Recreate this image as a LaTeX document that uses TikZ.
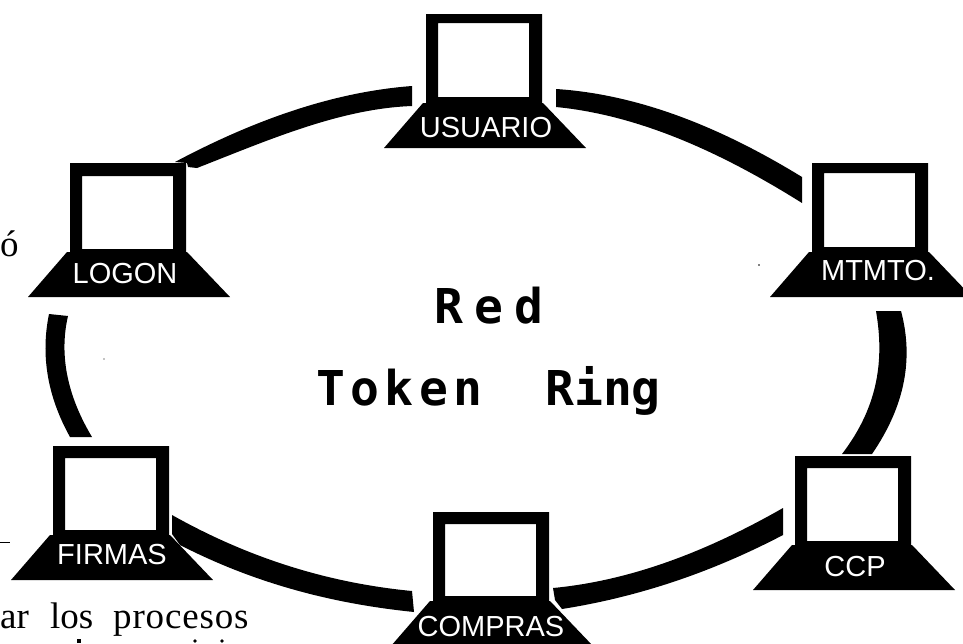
\documentclass[tikz,border=0pt]{standalone}
\usepackage{fontspec}
\setmainfont{Liberation Serif}
\newfontfamily\lblfont{Liberation Sans}
\newfontfamily\redfont[LetterSpace=23]{DejaVu Sans Mono Bold}
\newfontfamily\tokfont[LetterSpace=11.5]{DejaVu Sans Mono Bold}
\newfontfamily\ringfont{DejaVu Sans Mono Bold}
\newfontfamily\procfont[LetterSpace=2.3]{Liberation Serif}
\tikzset{
  lbl/.style={text=white,inner sep=0pt,font=\lblfont\fontsize{29}{29}\selectfont},
  title/.style={inner sep=0pt,anchor=base west},
  page/.style={inner sep=0pt,anchor=base west,font=\fontsize{37}{37}\selectfont},
  band/.style={fill=black,draw=none}
}
% name, x, y, inner top, inner bottom, label, label x, label y
\newcommand{\terminal}[8]{%
  \fill[black,even odd rule] (#2,#3) rectangle ++(116,91)
     (#2+12,#3+#4) rectangle (#2+103,#3+#5);
  \fill[black] (#2-3,#3+89) -- (#2+117,#3+89) -- (#2+160,#3+134) -- (#2-42,#3+134) -- cycle;
  \node[lbl] (#1) at (#7,#8) {#6};
}
\begin{document}
\begin{tikzpicture}[x=1pt,y=-1pt]
\useasboundingbox (0,0) rectangle (963,643);
\fill[white] (0,0) rectangle (963,643);
\terminal{usuario}{426}{14}{9}{83}{USUARIO}{486}{128}
\terminal{logon}{70}{163}{13}{86}{LOGON}{125}{274}
\terminal{mtmto}{812}{163}{10}{84}{MTMTO.}{878}{271}
\terminal{ccp}{795}{456}{12}{85}{CCP}{855}{567}
\terminal{compras}{433}{512}{12}{84}{COMPRAS}{491}{627}
\terminal{firmas}{53}{446}{12}{84}{FIRMAS}{112}{555}
% ring segments
\fill[band] (412,86) .. controls (333,92) and (254,120) .. (175,162)
   -- (187,163) -- (188,167) -- (197,168)
   .. controls (269,139.8) and (340,108.7) .. (412,106) -- cycle;
\fill[band] (556,89) .. controls (638,94.3) and (720,126.7) .. (802,177)
   -- (802,203) .. controls (720,151.5) and (638,115) .. (556,107) -- cycle;
\fill[band] (901,311) .. controls (913.8,359) and (904.9,406) .. (872,454)
   -- (842,454) .. controls (878.8,406) and (884.2,359) .. (876,311) -- cycle;
\fill[band] (783,508) .. controls (706,552) and (630,580.7) .. (553,588)
   -- (555,600) -- (562,609)
   .. controls (636,597.3) and (709,573.7) .. (783,535) -- cycle;
\fill[band] (412,591) .. controls (332,583.3) and (252,560) .. (172,515)
   -- (172,534) -- (180,545)
   .. controls (258,585) and (336,604) .. (414,612) -- cycle;
\fill[band] (92,437) .. controls (68,397) and (58.7,356) .. (68,316)
   -- (49,314) .. controls (40.6,355) and (47.2,396) .. (70,437) -- cycle;
% centre title
\node[title] (red) at (434,323) {\redfont\fontsize{48}{48}\selectfont Red};
\node[title] (token) at (316,405) {\tokfont\fontsize{48}{48}\selectfont Token};
\node[title] (ring) at (545,405) {\ringfont\fontsize{48}{48}\selectfont Ring};
% scanned page text around the diagram
\node[page] (o) at (0,256) {ó};
\node[page] (ar) at (0,628) {ar};
\node[page] (los) at (50,628) {los};
\node[page] (procesos) at (113,628) {\procfont procesos};
% stray marks
\fill (0,541.5) rectangle (10,542.5);
\fill (77,639) rectangle (81,643);
\fill (195,641) circle (1.8);
\fill (222,641) circle (1.8);
\fill (759,265) circle (0.8);
\fill (104,359) circle (0.7);
\end{tikzpicture}
\end{document}
